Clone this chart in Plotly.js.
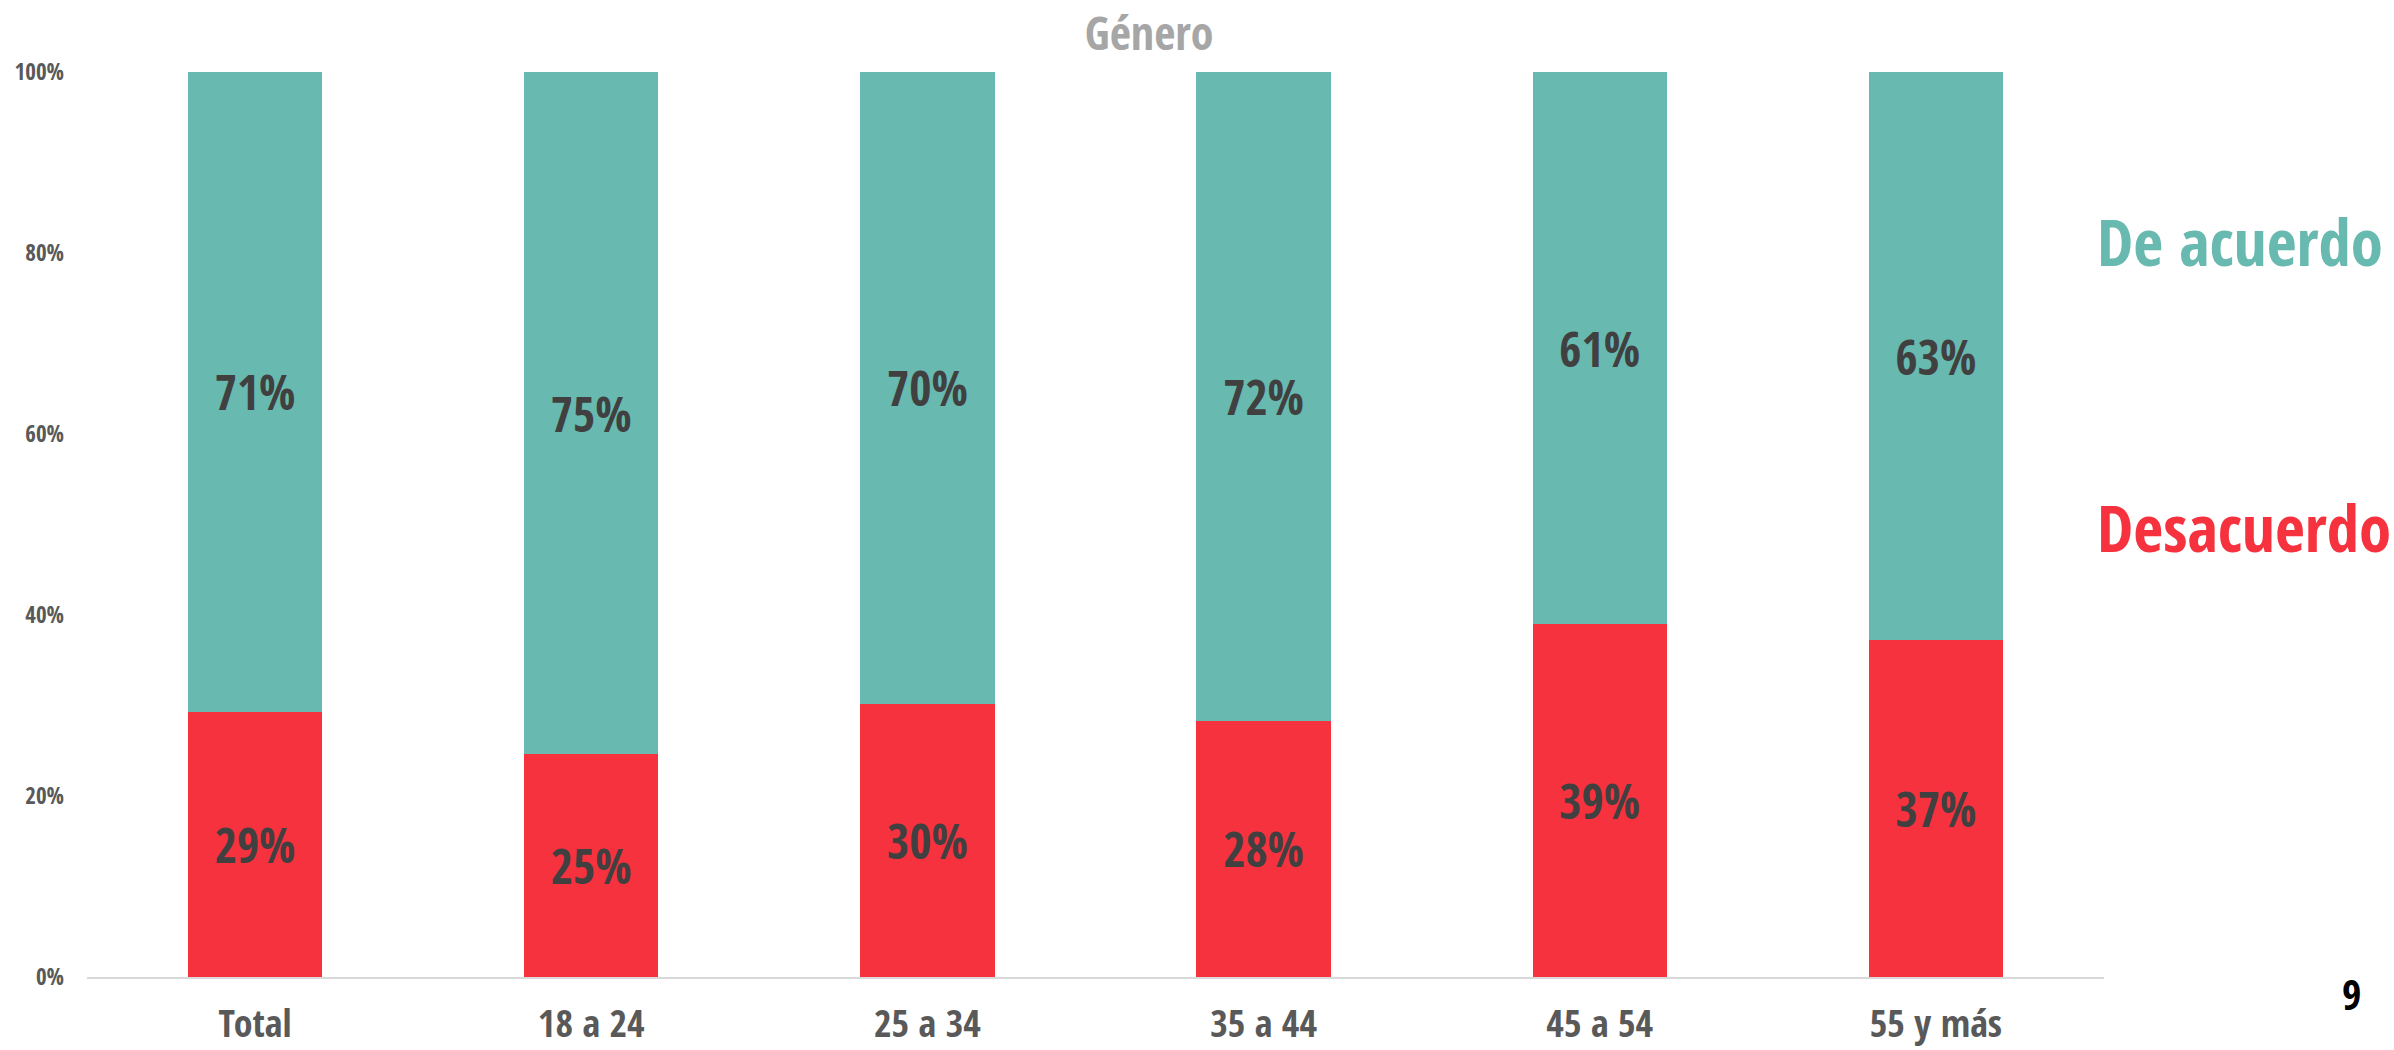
<!DOCTYPE html>
<html>
<head>
<meta charset="utf-8">
<script src="https://cdn.plot.ly/plotly-3.0.1.min.js"></script>
<style>html,body{margin:0;padding:0;background:#fff;}#chart{width:2394px;height:1050px;}</style>
</head>
<body>
<div id="chart"></div>
<script>
const categories = ["Total", "18 a 24", "25 a 34", "35 a 44", "45 a 54", "55 y más"];
const desacuerdo = [0.293, 0.246, 0.302, 0.283, 0.390, 0.372];
const deAcuerdo = [0.707, 0.754, 0.698, 0.717, 0.610, 0.628];
const yTickVals = [0, 0.2, 0.4, 0.6, 0.8, 1.0];
const seriesNames = ["Desacuerdo", "De acuerdo"];
const chartTitle = "Género";
const pageNumber = "9";

const FONT = "Open Sans Condensed, Roboto Condensed, sans-serif";
const TEAL = "#68B9AF";
const RED = "#F6323F";

const labelFont = {family: FONT, size: 48, color: "#404040", weight: "bold"};

const traces = [
  {
    type: "bar", name: seriesNames[0], x: categories, y: desacuerdo,
    marker: {color: RED},
    texttemplate: "%{y:.0%}", textposition: "inside", insidetextanchor: "middle",
    textfont: labelFont, constraintext: "none", hoverinfo: "none"
  },
  {
    type: "bar", name: seriesNames[1], x: categories, y: deAcuerdo,
    marker: {color: TEAL},
    texttemplate: "%{y:.0%}", textposition: "inside", insidetextanchor: "middle",
    textfont: labelFont, constraintext: "none", hoverinfo: "none"
  }
];

const layout = {
  width: 2394, height: 1050,
  paper_bgcolor: "#fff", plot_bgcolor: "#fff",
  barmode: "stack", bargap: 0.6,
  showlegend: false,
  margin: {l: 87, r: 290, t: 72, b: 73, pad: 0},
  font: {family: FONT},
  title: {
    text: chartTitle, xref: "container", yref: "container",
    x: 0.48, y: 0.968, xanchor: "center", yanchor: "middle",
    font: {family: FONT, size: 46, color: "#A6A6A6", weight: "bold"}
  },
  xaxis: {
    type: "category", range: [-0.5, 5.5],
    showline: true, linecolor: "#D9D9D9", linewidth: 2,
    showgrid: false, zeroline: false, ticks: "",
    tickfont: {family: FONT, size: 38, color: "#595959", weight: "bold"},
    ticklabelstandoff: 12
  },
  yaxis: {
    range: [0, 1], tickvals: yTickVals, tickformat: ".0%",
    showgrid: false, zeroline: false, showline: false, ticks: "",
    tickfont: {family: FONT, size: 23, color: "#595959", weight: "bold"},
    ticklabelstandoff: 22
  },
  annotations: [
    {text: seriesNames[1], xref: "paper", yref: "paper", x: 0.9955, y: 0.813,
     xanchor: "left", yanchor: "middle", showarrow: false,
     font: {family: FONT, size: 65, color: TEAL, weight: "bold"}},
    {text: seriesNames[0], xref: "paper", yref: "paper", x: 0.9955, y: 0.497,
     xanchor: "left", yanchor: "middle", showarrow: false,
     font: {family: FONT, size: 65, color: RED, weight: "bold"}},
    {text: pageNumber, xref: "paper", yref: "paper", x: 1.1225, y: -0.018,
     xanchor: "center", yanchor: "middle", showarrow: false,
     font: {family: FONT, size: 42, color: "#000000", weight: "bold"}}
  ]
};

Plotly.newPlot("chart", traces, layout, {displayModeBar: false, staticPlot: true});
</script>
</body>
</html>
